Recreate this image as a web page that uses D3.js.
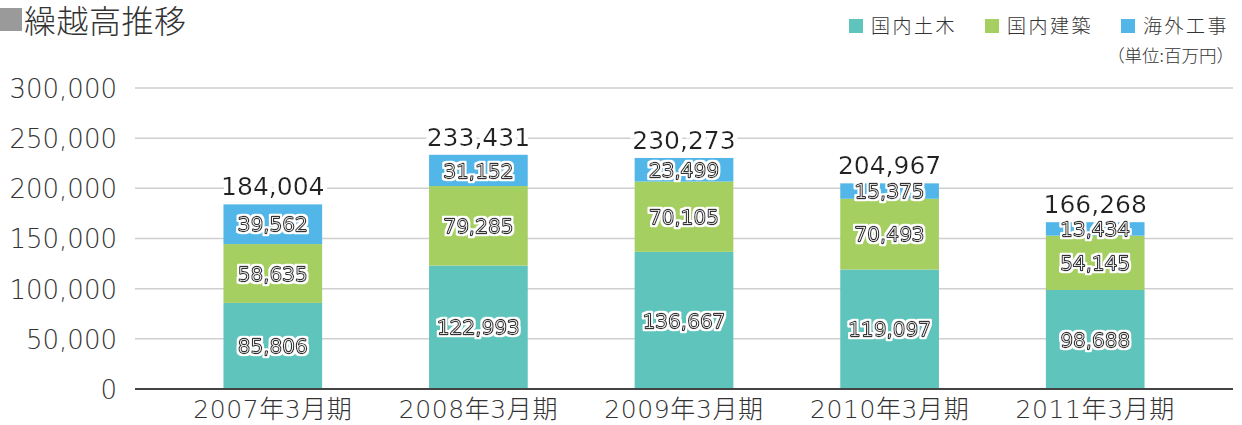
<!DOCTYPE html>
<html><head><meta charset="utf-8">
<script src="https://cdn.jsdelivr.net/npm/d3@7"></script>
<style>
html,body{margin:0;padding:0;background:#fff;}
svg text{font-family:"DejaVu Sans","Noto Sans CJK JP",sans-serif;}
.cjk{font-family:"Noto Sans CJK JP",sans-serif;}
</style></head>
<body><svg id="c" width="1242" height="425"></svg>
<script>
const categories = ["2007年3月期","2008年3月期","2009年3月期","2010年3月期","2011年3月期"];
const seriesNames = ["国内土木","国内建築","海外工事"];
const civil = [85806,122993,136667,119097,98688];
const building = [58635,79285,70105,70493,54145];
const overseas = [39562,31152,23499,15375,13434];
const totals = [184004,233431,230273,204967,166268];
const yTicks = [0,50000,100000,150000,200000,250000,300000];
const colors = ["#5ec4bc","#a6cf62","#52b7e8"];

const svg = d3.select("#c");
const fmt = d3.format(",");
const y = d3.scaleLinear().domain([0,300000]).range([389,88]);
const x = d3.scaleBand().domain(categories).range([170,1198]).paddingInner(0.52).paddingOuter(0.26);

const defs = svg.append("defs");
function halo(id, r){
  const f = defs.append("filter").attr("id",id).attr("x","-20%").attr("y","-40%").attr("width","140%").attr("height","180%");
  f.append("feMorphology").attr("in","SourceAlpha").attr("operator","dilate").attr("radius",r).attr("result","d");
  f.append("feFlood").attr("flood-color","#fff").attr("result","w");
  f.append("feComposite").attr("in","w").attr("in2","d").attr("operator","in").attr("result","h");
  const m = f.append("feMerge");
  m.append("feMergeNode").attr("in","h");
  m.append("feMergeNode").attr("in","SourceGraphic");
}
halo("halo1",1.6);
halo("halo2",4);

// title
svg.append("rect").attr("x",0).attr("y",8).attr("width",22).attr("height",23).attr("fill","#9a9a9a");
svg.append("text").attr("class","cjk").attr("x",24).attr("y",33).attr("font-size",32).attr("letter-spacing",0.5).attr("font-weight",300).attr("fill","#333").text("繰越高推移");

// legend
const legX = [849,985,1121];
seriesNames.forEach((s,i)=>{
  svg.append("rect").attr("x",legX[i]).attr("y",19).attr("width",14).attr("height",14).attr("fill",colors[i]);
  svg.append("text").attr("class","cjk").attr("x",legX[i]+22).attr("y",33).attr("font-size",19).attr("letter-spacing",2.5).attr("font-weight",300).attr("fill","#333").text(s);
});
svg.append("text").attr("class","cjk").attr("x",1234).attr("y",62).attr("text-anchor","end").attr("font-size",17.5).attr("font-weight",300).attr("fill","#333").text("（単位:百万円）");

// grid
const grid = svg.append("g");
yTicks.filter(d=>d>0).forEach(t=>{
  grid.append("line").attr("x1",135).attr("x2",1233).attr("y1",y(t)).attr("y2",y(t)).attr("stroke","#cfcfcf").attr("stroke-width",1.5);
});

// y axis labels
const yAxis = d3.axisLeft(y).tickValues(yTicks).tickFormat(fmt).tickSize(0).tickPadding(0);
const ya = svg.append("g").attr("transform","translate(117,0)").call(yAxis);
ya.select(".domain").remove();
ya.selectAll("text").attr("font-size",26).attr("font-weight",200).attr("fill","#333").attr("font-family","'DejaVu Sans',sans-serif").attr("dy","0.36em");

// stack
const rows = categories.map((c,i)=>({cat:c, a:civil[i], b:building[i], c2:overseas[i]}));
const stack = d3.stack().keys(["a","b","c2"])(rows);

const g = svg.append("g");
stack.forEach((layer,li)=>{
  g.selectAll(null).data(layer).join("rect")
    .attr("x",d=>x(d.data.cat)).attr("width",x.bandwidth())
    .attr("y",d=>y(d[1])).attr("height",d=>y(d[0])-y(d[1]))
    .attr("fill",colors[li]);
});

// x axis
const xAxis = d3.axisBottom(x).tickSize(0).tickPadding(8);
const xa = svg.append("g").attr("transform","translate(0,389)").call(xAxis);
xa.select(".domain").remove();
svg.append("line").attr("x1",135).attr("x2",1233).attr("y1",389).attr("y2",389).attr("stroke","#444").attr("stroke-width",2);
xa.selectAll("text").attr("font-size",25).attr("letter-spacing",0.6).attr("font-weight",200).attr("fill","#333").attr("font-family","'DejaVu Sans','Noto Sans CJK JP',sans-serif").attr("dy","0.85em");

// segment labels
const segPts = [];
stack.forEach((layer)=>{
  layer.forEach(d=>segPts.push({x:x(d.data.cat)+x.bandwidth()/2, y:(y(d[0])+y(d[1]))/2, v:d[1]-d[0]}));
});
g.selectAll(null).data(segPts).join("text")
  .attr("x",d=>d.x).attr("y",d=>d.y).attr("dy","0.36em")
  .attr("text-anchor","middle").attr("font-size",20).attr("font-weight",200)
  .attr("fill","#fff").attr("stroke","#333").attr("stroke-width",2.4).attr("stroke-linejoin","round")
  .attr("paint-order","stroke").attr("filter","url(#halo1)")
  .text(d=>fmt(d.v));

// totals
const tpts = categories.map((c,i)=>({x:x(c)+x.bandwidth()/2, y:y(totals[i])-9, v:totals[i]}));
svg.selectAll(null).data(tpts).join("text")
  .attr("x",d=>d.x).attr("y",d=>d.y).attr("text-anchor","middle")
  .attr("font-size",25).attr("font-weight",400).attr("fill","#222")
  .attr("filter","url(#halo2)")
  .text(d=>fmt(d.v));
</script></body></html>
